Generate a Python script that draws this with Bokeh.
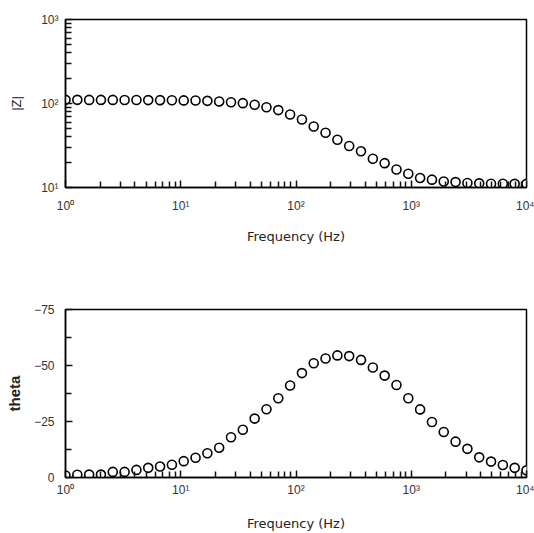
from bokeh.plotting import figure
from bokeh.layouts import column
from bokeh.models import Range1d, FixedTicker, CustomJSTickFormatter, ColumnDataSource
from bokeh.embed import file_html
from bokeh.resources import INLINE

# Impedance spectrum: frequency sweep, magnitude and phase
freq_hz = [1.0, 1.266, 1.604, 2.031, 2.572, 3.257, 4.125, 5.224, 6.616, 8.379,
           10.61, 13.44, 17.02, 21.55, 27.29, 34.56, 43.77, 55.43, 70.20, 88.90,
           112.6, 142.5, 180.5, 228.6, 289.4, 366.5, 464.2, 587.8, 744.4, 942.7,
           1194.0, 1512.0, 1914.0, 2424.0, 3070.0, 3888.0, 4924.0, 6236.0, 7897.0, 10000.0]

z_mag = [110.5, 110.5, 110.4, 110.4, 110.3, 110.2, 110.0, 109.8, 109.6, 109.2,
         108.8, 108.4, 107.6, 105.7, 103.6, 100.9, 96.6, 90.4, 83.5, 74.0,
         64.5, 53.2, 44.8, 37.0, 31.2, 27.0, 22.0, 19.5, 16.4, 14.6,
         13.0, 12.4, 11.8, 11.6, 11.3, 11.2, 11.1, 11.1, 11.05, 11.05]

theta_deg = [-0.9, -1.2, -1.3, -1.3, -2.5, -2.5, -3.4, -4.3, -4.9, -5.7,
             -7.3, -8.8, -10.8, -13.3, -18.0, -21.3, -26.3, -30.5, -35.4, -41.1,
             -46.6, -51.0, -53.1, -54.5, -54.2, -52.5, -49.1, -45.5, -41.3, -35.4,
             -30.4, -24.8, -20.3, -16.0, -12.8, -9.0, -7.1, -5.6, -4.3, -3.2]

freq_decades = [1, 10, 100, 1000, 10000]
z_decades = [10, 100, 1000]
theta_ticks = [0, -25, -50, -75]
theta_minor = [-12.5, -37.5, -62.5]

x_label = "Frequency (Hz)"
z_label = "|Z|"
theta_label = "theta"

TICK_FONT = "Liberation Sans"
LABEL_FONT = "DejaVu Sans"

src = ColumnDataSource(dict(f=freq_hz, z=z_mag, th=theta_deg))


def minor_log(decades):
    return [d * m for d in decades[:-1] for m in range(2, 10)]


pow10 = CustomJSTickFormatter(code="""
    const sup = ["\\u2070", "\\u00b9", "\\u00b2", "\\u00b3", "\\u2074",
                 "\\u2075", "\\u2076", "\\u2077", "\\u2078", "\\u2079"];
    const e = Math.round(Math.log10(tick));
    return "10" + sup[e];
""")


def style_axes(p):
    p.outline_line_color = "black"
    p.outline_line_width = 1.5
    p.grid.visible = False
    for ax in (p.xaxis[0], p.yaxis[0]):
        ax.axis_line_width = 1.5
        ax.major_tick_in = 7
        ax.major_tick_out = 0
        ax.minor_tick_in = 6
        ax.minor_tick_out = 0
        ax.major_tick_line_color = "#111111"
        ax.minor_tick_line_color = "#111111"
        ax.major_tick_line_width = 1.5
        ax.minor_tick_line_width = 1.5
        ax.major_label_text_font = TICK_FONT
        ax.major_label_text_font_size = "12px"
        ax.major_label_text_color = "#333333"
        ax.axis_label_text_color = "#222222"


# |Z| versus frequency
p1 = figure(width=534, height=260, x_axis_type="log", y_axis_type="log",
            x_range=Range1d(1, 10000), y_range=Range1d(10, 1000),
            output_backend="svg", toolbar_location=None,
            min_border_left=65, min_border_right=8,
            min_border_top=19, min_border_bottom=73)
style_axes(p1)
p1.xaxis.ticker = FixedTicker(ticks=freq_decades, minor_ticks=minor_log(freq_decades))
p1.yaxis.ticker = FixedTicker(ticks=z_decades, minor_ticks=minor_log(z_decades))
p1.xaxis.formatter = pow10
p1.yaxis.formatter = pow10
p1.xaxis.major_label_standoff = 11
p1.yaxis.major_label_standoff = 7
p1.xaxis.axis_label = x_label
p1.xaxis.axis_label_text_font = LABEL_FONT
p1.xaxis.axis_label_text_font_size = "13px"
p1.xaxis.axis_label_text_font_style = "normal"
p1.xaxis.axis_label_standoff = 13
p1.yaxis.axis_label = z_label
p1.yaxis.axis_label_text_font = TICK_FONT
p1.yaxis.axis_label_text_font_size = "13px"
p1.yaxis.axis_label_text_font_style = "normal"
p1.yaxis.axis_label_standoff = 14
p1.scatter("f", "z", source=src, marker="circle", size=9,
           line_color="black", line_width=1.6, fill_color="white")

# Phase angle versus frequency (negative angles plotted upward)
p2 = figure(width=534, height=273, x_axis_type="log",
            x_range=Range1d(1, 10000), y_range=Range1d(0, -75),
            output_backend="svg", toolbar_location=None,
            min_border_left=65, min_border_right=8,
            min_border_top=49, min_border_bottom=54)
style_axes(p2)
p2.xaxis.ticker = FixedTicker(ticks=freq_decades, minor_ticks=minor_log(freq_decades))
p2.yaxis.ticker = FixedTicker(ticks=theta_ticks, minor_ticks=theta_minor)
p2.xaxis.formatter = pow10
p2.xaxis.major_label_standoff = 5
p2.yaxis.major_label_standoff = 11
p2.xaxis.axis_label = x_label
p2.xaxis.axis_label_text_font = LABEL_FONT
p2.xaxis.axis_label_text_font_size = "13px"
p2.xaxis.axis_label_text_font_style = "normal"
p2.xaxis.axis_label_standoff = 16
p2.yaxis.axis_label = theta_label
p2.yaxis.axis_label_text_font = TICK_FONT
p2.yaxis.axis_label_text_font_size = "15px"
p2.yaxis.axis_label_text_font_style = "bold"
p2.yaxis.axis_label_standoff = 8
p2.scatter("f", "th", source=src, marker="circle", size=9,
           line_color="black", line_width=1.6, fill_color="white")

layout = column(p1, p2, spacing=0)

with open("out.html", "w", encoding="utf-8") as fh:
    fh.write(file_html(layout, INLINE))
